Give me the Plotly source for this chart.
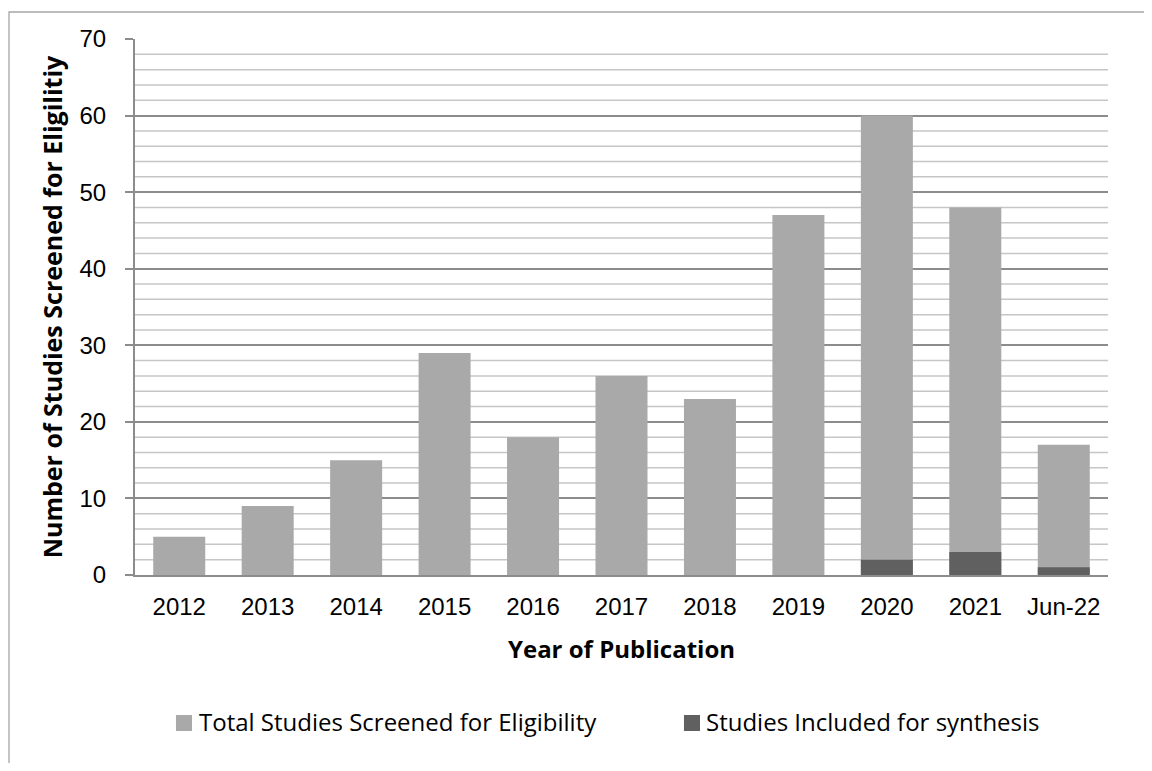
import plotly.graph_objects as go

categories = ["2012", "2013", "2014", "2015", "2016", "2017", "2018", "2019", "2020", "2021", "Jun-22"]
total_screened = [5, 9, 15, 29, 18, 26, 23, 47, 60, 48, 17]
included = [0, 0, 0, 0, 0, 0, 0, 0, 2, 3, 1]
series_names = ["Total Studies Screened for Eligibility", "Studies Included for synthesis"]
series_colors = ["#a9a9a9", "#606060"]
y_ticks = [0, 10, 20, 30, 40, 50, 60, 70]
minor_step = 2

TICK_FONT = "Liberation Sans, Arial, sans-serif"
TEXT_FONT = "Open Sans, Liberation Sans, sans-serif"

fig = go.Figure()
for vals, name, col in zip([total_screened, included], series_names, series_colors):
    fig.add_trace(go.Bar(
        x=categories, y=vals, name=name,
        marker=dict(color=col, line=dict(width=0)), width=0.588,
    ))

# minor gridlines
for v in range(0, 71, minor_step):
    if v % 10 == 0:
        continue
    fig.add_shape(type="line", xref="paper", yref="y", x0=0, x1=1, y0=v, y1=v,
                  line=dict(color="#c6c6c6", width=1.5), layer="below")

# outer chart border
fig.add_shape(type="rect", xref="paper", yref="paper",
              x0=-0.1295, x1=1.2, y0=-0.4, y1=1.0504,
              line=dict(color="#a6a6a6", width=1.3), layer="below")

# custom legend (square swatch + text)
legend_swatch_x = [0.0421, 0.5642]
legend_text_x = [0.0637, 0.5848]
for sx, tx, name, col in zip(legend_swatch_x, legend_text_x, series_names, series_colors):
    fig.add_shape(type="rect", xref="paper", yref="paper",
                  x0=sx, x1=sx + 0.0165, y0=-0.291, y1=-0.2612,
                  fillcolor=col, line=dict(width=0))
    fig.add_annotation(xref="paper", yref="paper", x=tx, y=-0.274,
                       xanchor="left", yanchor="middle", showarrow=False,
                       text=name, font=dict(size=24, family=TEXT_FONT, color="#000000"))

fig.update_layout(
    width=1136, height=755,
    margin=dict(l=127, r=36, t=31, b=188),
    paper_bgcolor="white", plot_bgcolor="white",
    barmode="overlay",
    font=dict(family=TICK_FONT, size=24, color="#000000"),
    showlegend=False,
    xaxis=dict(
        title=dict(text="<b>Year of Publication</b>", font=dict(size=24, family=TEXT_FONT), standoff=22),
        showgrid=False, showline=True, linecolor="#8c8c8c", linewidth=2,
        ticks="", ticklabelstandoff=9,
        tickfont=dict(size=24, family=TICK_FONT), zeroline=False,
    ),
    yaxis=dict(
        title=dict(text="<b>Number of Studies Screened for Eligilitiy</b>", font=dict(size=25, family=TEXT_FONT), standoff=10),
        range=[0, 70], tickvals=y_ticks, showgrid=True, gridcolor="#8c8c8c", gridwidth=1.8,
        showline=True, linecolor="#8c8c8c", linewidth=2,
        ticks="outside", ticklen=8, tickcolor="#8c8c8c", tickwidth=2,
        ticklabelstandoff=14,
        tickfont=dict(size=24, family=TICK_FONT), zeroline=False,
    ),
)

fig.write_html("out.html")
